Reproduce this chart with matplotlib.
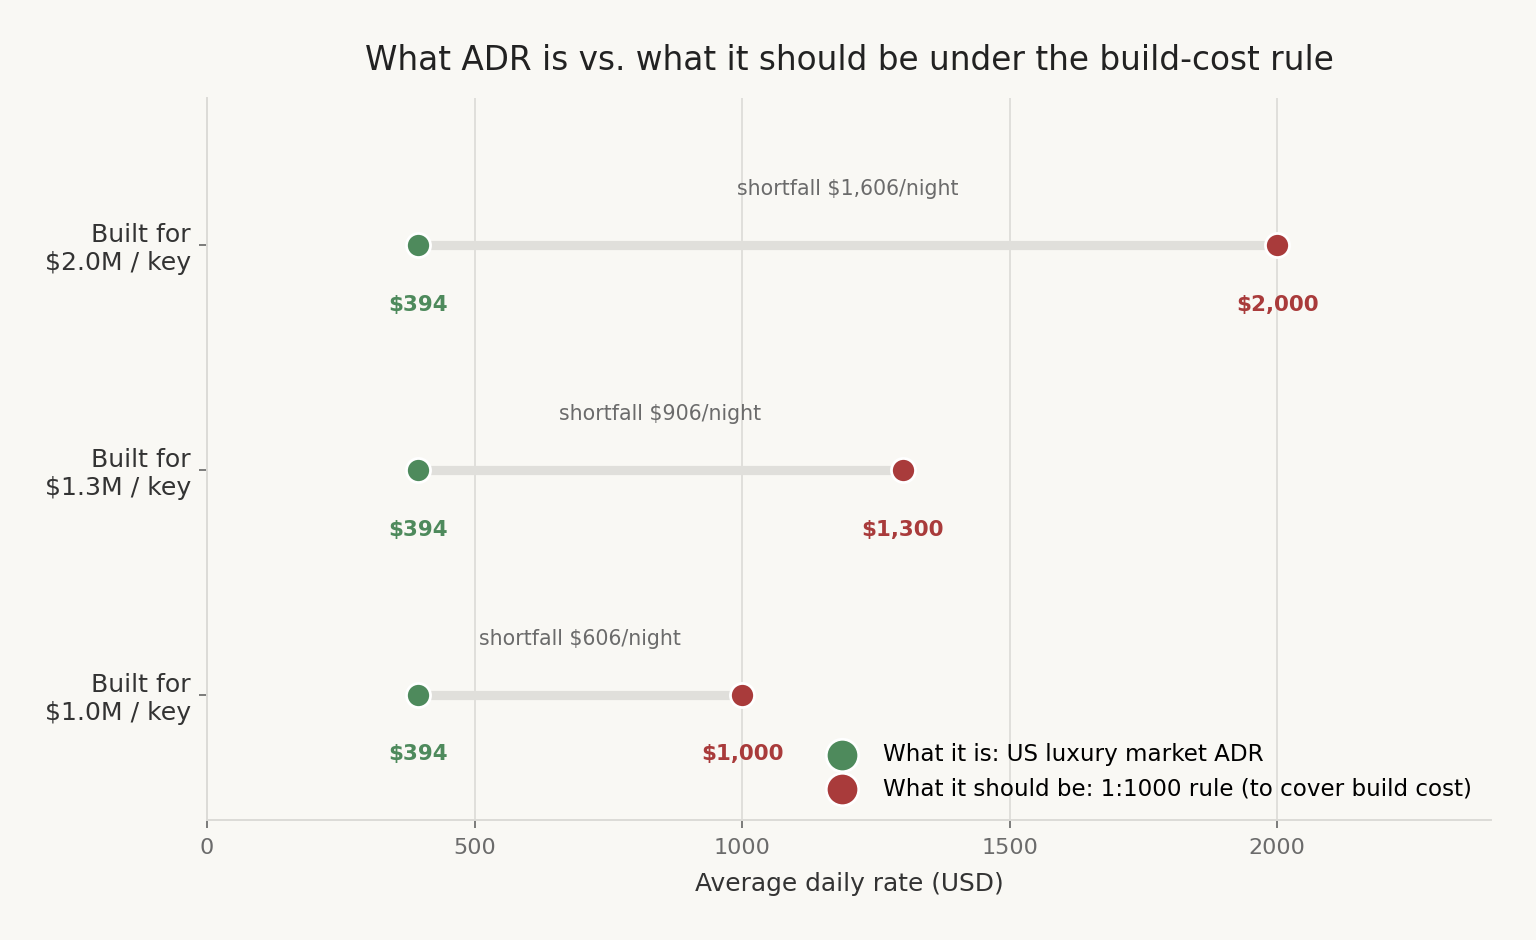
import matplotlib.pyplot as plt
import numpy as np

# data
build_labels = ['Built for\n$1.0M / key', 'Built for\n$1.3M / key', 'Built for\n$2.0M / key']
actual_adr = [394, 394, 394]
target_adr = [1000, 1300, 2000]
shortfall = [606, 906, 1606]

GREEN = '#4e8a5c'
RED = '#a93b3b'
BG = '#f9f8f4'
TEXT = '#333333'

fig = plt.figure(figsize=(7.68, 4.7), dpi=200, facecolor=BG)
ax = fig.add_axes([0.1348, 0.1277, 0.836, 0.768], facecolor=BG)

y = np.arange(len(build_labels))

# connecting bars
for yi, a, t in zip(y, actual_adr, target_adr):
    ax.plot([a, t], [yi, yi], color='#e0dfdb', lw=3.3, solid_capstyle='butt', zorder=2)

ax.scatter(actual_adr, y, s=75, color=GREEN, edgecolor='white', linewidth=1, zorder=3,
           label='What it is: US luxury market ADR')
ax.scatter(target_adr, y, s=75, color=RED, edgecolor='white', linewidth=1, zorder=3,
           label='What it should be: 1:1000 rule (to cover build cost)')

for yi, a, t, s in zip(y, actual_adr, target_adr, shortfall):
    ax.text(a, yi - 0.265, f'${a:,}', ha='center', va='center', color=GREEN,
            fontsize=7.7, fontweight='bold')
    ax.text(t, yi - 0.265, f'${t:,}', ha='center', va='center', color=RED,
            fontsize=7.7, fontweight='bold')
    ax.text((a + t) / 2, yi + 0.25, f'shortfall ${s:,}/night', ha='center', va='center',
            color='#6b6b6b', fontsize=7.4)

ax.set_xlim(0, 2400)
ax.set_ylim(-0.556, 2.653)
ax.set_xticks([0, 500, 1000, 1500, 2000])
ax.set_yticks(y)
ax.set_yticklabels(build_labels, fontsize=9.05, color=TEXT)
ax.tick_params(axis='x', labelsize=8, labelcolor='#6b6b6b', color='#666666', length=3, width=0.6)
ax.tick_params(axis='y', color='#666666', length=2.8, width=0.6, pad=3)

ax.grid(axis='x', color='#dcdbd7', lw=0.6)
ax.set_axisbelow(True)
for side in ['top', 'right']:
    ax.spines[side].set_visible(False)
for side in ['left', 'bottom']:
    ax.spines[side].set_color('#dcdbd7')
    ax.spines[side].set_linewidth(0.7)

ax.set_xlabel('Average daily rate (USD)', fontsize=8.95, color=TEXT, labelpad=5)
ax.set_title('What ADR is vs. what it should be under the build-cost rule',
             fontsize=11.8, color='#222222', pad=10)

ax.legend(loc='lower right', frameon=False, fontsize=8.3, markerscale=1.35,
          handletextpad=0.75, borderaxespad=0.45, labelspacing=0.5)

fig.savefig('out.png', dpi=200, facecolor=BG)
